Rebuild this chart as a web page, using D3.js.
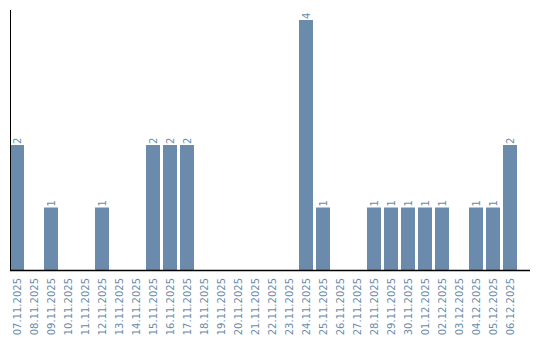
<!DOCTYPE html>
<html>
    <head>
        <meta charset="utf-8">
        <title>Bar chart</title>
        <script type="text/javascript" src="https://cdn.jsdelivr.net/npm/d3@7/dist/d3.min.js"></script>
        <style>
            body { margin: 0; background: #fff; }
            text { font-family: "DejaVu Sans", sans-serif; font-size: 10px; fill: #6a8bab; }
        </style>
    </head>
    <body>
        <script type="text/javascript">
            var dates = ["07.11.2025", "08.11.2025", "09.11.2025", "10.11.2025", "11.11.2025",
                "12.11.2025", "13.11.2025", "14.11.2025", "15.11.2025", "16.11.2025",
                "17.11.2025", "18.11.2025", "19.11.2025", "20.11.2025", "21.11.2025",
                "22.11.2025", "23.11.2025", "24.11.2025", "25.11.2025", "26.11.2025",
                "27.11.2025", "28.11.2025", "29.11.2025", "30.11.2025", "01.12.2025",
                "02.12.2025", "03.12.2025", "04.12.2025", "05.12.2025", "06.12.2025"];
            var counts = [2, 0, 1, 0, 0, 1, 0, 0, 2, 2,
                2, 0, 0, 0, 0, 0, 0, 4, 1, 0,
                0, 1, 1, 1, 1, 1, 0, 1, 1, 2];

            var svg = d3.select("body").append("svg").attr("width", 540).attr("height", 340);

            var x = d3.scaleBand().domain(dates).range([10, 517])
                .paddingInner(3 / 17).paddingOuter(0);
            var y = d3.scaleLinear().domain([0, 4]).range([270, 20]);

            var data = dates.map(function (d, i) { return {date: d, value: counts[i]}; });

            // bars
            svg.selectAll("rect.bar").data(data.filter(function (d) { return d.value > 0; }))
                .enter().append("rect")
                .attr("class", "bar")
                .attr("x", function (d) { return x(d.date); })
                .attr("y", function (d) { return y(d.value); })
                .attr("width", x.bandwidth())
                .attr("height", function (d) { return y(0) - y(d.value); })
                .attr("fill", "#6a8bab");

            // value labels, rotated
            svg.selectAll("text.val").data(data.filter(function (d) { return d.value > 0; }))
                .enter().append("text")
                .attr("class", "val")
                .attr("transform", function (d) {
                    return "translate(" + (x(d.date) + x.bandwidth() / 2 + 3.5) + "," + (y(d.value) - 1) + ") rotate(-90)";
                })
                .text(function (d) { return d.value; });

            // x axis labels
            svg.selectAll("text.lbl").data(dates)
                .enter().append("text")
                .attr("class", "lbl")
                .attr("text-anchor", "end")
                .attr("transform", function (d) {
                    return "translate(" + (x(d) + x.bandwidth() / 2 + 3.5) + ",278) rotate(-90)";
                })
                .text(function (d) { return d; });

            // axis lines
            svg.append("line").attr("x1", 10.5).attr("x2", 10.5).attr("y1", 10).attr("y2", 270)
                .attr("stroke", "#000").attr("stroke-width", 1);
            svg.append("line").attr("x1", 10).attr("x2", 530).attr("y1", 270.5).attr("y2", 270.5)
                .attr("stroke", "#000").attr("stroke-width", 1.5);
        </script>
    </body>
</html>
